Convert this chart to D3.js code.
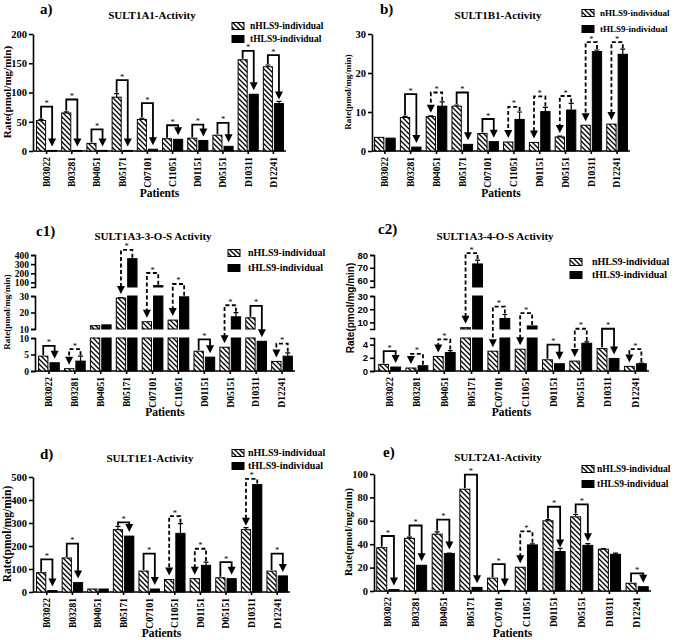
<!DOCTYPE html>
<html><head><meta charset="utf-8">
<script src="https://cdn.jsdelivr.net/npm/d3@7"></script>
<style>
body{margin:0;background:#fff}
text{font-family:"Liberation Serif","Times New Roman",serif;font-weight:bold;fill:#000}
</style></head>
<body><svg id="c" width="675" height="640"></svg>
<script>
const patients = ["B03022","B03281","B04051","B05171","C07101","C11051","D01151","D05151","D10311","D12241"];
const seriesNames = ["nHLS9-individual","tHLS9-individual"];

// a) SULT1A1
const a_n    = [52,65,13,92,54,21,22,27,156,144];
const a_t    = [1,1,1,1,3,20,18,8,97,81];
const a_nErr = [2,2,0,6,2,0,0,0,0,3];
const a_tErr = [0,0,0,0,0,0,0,0,0,4];
const a_br   = [76,88,37,121,82,44,45,48,171,164];
const a_ticks = [0,50,100,150,200];

// b) SULT1B1
const b_n    = [3.5,8.6,8.8,11.5,4.5,2.3,2.2,3.6,6.6,6.9];
const b_t    = [3.3,1.0,11.5,1.7,2.4,8.1,10.1,10.5,25.5,24.8];
const b_nErr = [0,0.3,0.2,0.3,0,0,0,0.2,0,0];
const b_tErr = [0,0,1.1,0,0,1.9,1.1,1.7,0.4,1.3];
const b_br   = [null,14.6,15,15,8.2,11.3,14,14.1,27.9,27.9];
const b_ticks = [0,10,20,30];

// c1) SULT1A3-3-O-S
const c1_n    = [4.5,0.7,12,28.8,14.4,15.4,6,7.2,16.8,2.9];
const c1_t    = [2.5,3.0,12.5,360,65,29.5,4.2,17.4,9,4.5];
const c1_nErr = [0,0,0,0.3,0,0,0,0,0,0];
const c1_tErr = [0,1.5,0,0,0,0,0,2.5,0,1];
const c1_br   = [7.6,6.6,null,455,203,83,9.6,24.4,24,8.3];
const c1_ticksLow = [0,5,10], c1_ticksMid = [10,20,30], c1_ticksTop = [100,200,300,400];

// c2) SULT1A3-4-O-S
const c2_n    = [1.0,0.45,2.2,6,3.0,3.3,1.7,1.5,3.4,0.7];
const c2_t    = [0.6,0.8,2.8,73,13,7.3,1.1,4.2,1.9,1.1];
const c2_nErr = [0,0,0,0,0,0,0,0,0,0];
const c2_tErr = [0,0,0.3,3,3,0,0,0.2,0,0.1];
const c2_br   = [3.0,2.6,4.8,81.5,21.9,17,4.0,5.2,5.2,3.3];
const c2_ticksLow = [0,2,4], c2_ticksMid = [10,20,30], c2_ticksTop = [60,70,80];

// d) SULT1E1
const d_n    = [84,148,13,271,91,54,58,62,271,91];
const d_t    = [6,41,13,243,13,255,116,58,467,70];
const d_nErr = [0,0,0,14,0,0,0,0,9,0];
const d_tErr = [0,0,0,0,0,42,14,0,0,0];
const d_br   = [142,210,null,303,167,330,188,130,492,167];
const d_ticks = [0,100,200,300,400,500];

// e) SULT2A1
const e_n    = [37,45,48.6,87,11,20.3,60,63.4,35.7,6.6];
const e_t    = [1.2,22,32,3.1,0.5,39.4,33.7,39,31.4,3.7];
const e_nErr = [0,1,2,0,0,0,1,2,0.5,0];
const e_tErr = [0,0,0.5,0,0,1,2.8,1.5,1,0];
const e_br   = [47,56,61,99.5,23,51,72,74,null,15];
const e_ticks = [0,20,40,60,80,100];

const svg = d3.select("#c");
const defs = svg.append("defs");
const pat = defs.append("pattern").attr("id","hatch").attr("width",5).attr("height",5)
  .attr("patternUnits","userSpaceOnUse");
pat.append("rect").attr("width",5).attr("height",5).attr("fill","#fff");
pat.append("path").attr("d","M0,0L5,5M-1,4L1,6M4,-1L6,1").attr("stroke","#000").attr("stroke-width",1.3);

function panel(cfg){
  const g = svg.append("g");
  const x = d3.scaleBand().domain(patients).range(cfg.xr);
  const step = x.bandwidth();
  const bw = step*0.36, gap = step*0.08;
  const segs = cfg.segs.map(s => ({sc: d3.scaleLinear().domain(s.d).range(s.r), ticks: s.ticks}));
  const Y = v => {
    for (let i=0;i<segs.length;i++){
      const s = segs[i].sc, [d0,d1] = s.domain();
      if (v <= d1 || i === segs.length-1) return v < d0 ? s.range()[0] : s(v);
    }
  };
  const axX = cfg.axX;
  // y axis segments
  segs.forEach(s => {
    const ax = d3.axisLeft(s.sc).tickValues(s.ticks).tickFormat(d3.format("d"))
      .tickSize(4).tickPadding(2).tickSizeOuter(segs.length>1?4:0);
    const ag = g.append("g").attr("transform",`translate(${axX},0)`).call(ax);
    ag.selectAll("path,line").attr("stroke","#000").attr("stroke-width",1.6);
    ag.selectAll("text").style("font-size",cfg.tickFont+"px")
      .style("font-family",cfg.sans?"'Liberation Sans',Arial,sans-serif":null);
  });
  // x axis
  const base = segs[0].sc.range()[0];
  const xa = d3.axisBottom(x).tickSize(3).tickSizeOuter(0);
  const xg = g.append("g").attr("transform",`translate(0,${base})`).call(xa);
  xg.select(".domain").attr("d",`M${axX},0H${cfg.xr[1]}`);
  xg.selectAll("path,line").attr("stroke","#000").attr("stroke-width",1.6);
  xg.selectAll("text").attr("transform","rotate(-90)").attr("x",-6).attr("y",0)
    .attr("dy","0.35em").attr("text-anchor","end").style("font-size","9.5px");

  const series = [
    {v: cfg.n, e: cfg.nErr, off: -gap/2-bw, fill:"url(#hatch)"},
    {v: cfg.t, e: cfg.tErr, off: gap/2, fill:"#000"}
  ];
  // bars
  series.forEach(s => {
    patients.forEach((p,i) => {
      const v = s.v[i];
      const cx = x(p)+step/2+s.off;
      segs.forEach(sg => {
        const [d0,d1] = sg.sc.domain();
        if (v > d0) {
          const top = sg.sc(Math.min(v,d1)), bot = sg.sc(d0);
          g.append("rect").attr("x",cx).attr("y",top).attr("width",bw).attr("height",Math.max(bot-top,0.8))
            .attr("fill",s.fill).attr("stroke","#000").attr("stroke-width",1);
        }
      });
      const e = s.e[i];
      if (e > 0) {
        const yt = Y(v+e), yb = Y(v), mx = cx+bw/2;
        g.append("path").attr("d",`M${mx},${yb}V${yt}M${mx-2.5},${yt}H${mx+2.5}`)
          .attr("stroke","#000").attr("stroke-width",1.2).attr("fill","none");
      }
    });
  });
  // brackets
  patients.forEach((p,i) => {
    const b = cfg.br[i];
    if (b == null) return;
    const c = x(p)+step/2;
    const xn = c - gap/2 - bw/2, xt = c + gap/2 + bw/2;
    const dec = cfg.n[i] > cfg.t[i];
    const hiX = dec ? xn : xt, loX = dec ? xt : xn;
    const hiTop = dec ? Y(cfg.n[i]+cfg.nErr[i]) : Y(cfg.t[i]+cfg.tErr[i]);
    const loTop = dec ? Y(cfg.t[i]) : Y(cfg.n[i]);
    const by = Y(b);
    const tip = loTop - 4, ah = 8, aw = 4;
    g.append("path").attr("d",`M${hiX},${hiTop-1}V${by}H${loX}V${tip-ah+1}`)
      .attr("fill","none").attr("stroke","#000").attr("stroke-width",1.8)
      .attr("stroke-dasharray", dec ? null : "4,2.5");
    g.append("path").attr("d",`M${loX-aw},${tip-ah}L${loX+aw},${tip-ah}L${loX},${tip}Z`).attr("fill","#000");
    g.append("text").attr("x",(xn+xt)/2).attr("y",by-0.5).attr("text-anchor","middle")
      .style("font-size","8.5px").style("font-weight","normal").text("*");
  });
  // title, label
  g.append("text").attr("x",cfg.title[1]).attr("y",cfg.title[2]).attr("text-anchor","middle")
    .style("font-size","11px").text(cfg.title[0]);
  g.append("text").attr("x",cfg.label[1]).attr("y",cfg.label[2]).style("font-size","15px").text(cfg.label[0]);
  // y title
  g.append("text").attr("transform",`translate(${cfg.ylab[0]},${cfg.ylab[1]}) rotate(-90)`)
    .attr("text-anchor","middle").style("font-size",cfg.ylab[2]+"px")
    .style("font-family",cfg.sans?"'Liberation Sans',Arial,sans-serif":null)
    .text("Rate(pmol/mg/min)");
  // x title
  g.append("text").attr("x",(axX+cfg.xr[1])/2).attr("y",cfg.patY).attr("text-anchor","middle")
    .style("font-size","11.5px").text("Patients");
  // legend
  const L = cfg.leg;
  seriesNames.forEach((nm,k) => {
    const cy = L.y[k];
    g.append("rect").attr("x",L.bx).attr("y",cy-3.5).attr("width",12).attr("height",7)
      .attr("fill",k===0?"url(#hatch)":"#000").attr("stroke","#000").attr("stroke-width",1);
    g.append("text").attr("x",L.tx).attr("y",cy+3.2).style("font-size",L.fs+"px").text(nm);
  });
}

panel({n:a_n,t:a_t,nErr:a_nErr,tErr:a_tErr,br:a_br,xr:[34,286],axX:33,tickFont:10.5,
  segs:[{d:[0,200],r:[151,34],ticks:a_ticks}],
  title:["SULT1A1-Activity",152,19],label:["a)",40,14],ylab:[11,92,11],patY:197,
  leg:{bx:232,tx:250,y:[26,39],fs:9.5}});
panel({n:b_n,t:b_t,nErr:b_nErr,tErr:b_tErr,br:b_br,xr:[372,630],axX:372,tickFont:10.5,
  segs:[{d:[0,30],r:[151,34],ticks:b_ticks}],
  title:["SULT1B1-Activity",498,19],label:["b)",380,14],ylab:[351,92,9],patY:197,
  leg:{bx:582,tx:600,y:[13,29],fs:9}});
panel({n:c1_n,t:c1_t,nErr:c1_nErr,tErr:c1_tErr,br:c1_br,xr:[36,295],axX:35,tickFont:9.5,
  segs:[{d:[0,10],r:[371,338],ticks:c1_ticksLow},{d:[10,30],r:[329,296],ticks:c1_ticksMid},
        {d:[50,400],r:[287,255],ticks:c1_ticksTop}],
  title:["SULT1A3-3-O-S Activity",153,240],label:["c1)",36,236],ylab:[10,312,9],patY:416,
  leg:{bx:228,tx:248,y:[253,268],fs:10}});
panel({n:c2_n,t:c2_t,nErr:c2_nErr,tErr:c2_tErr,br:c2_br,xr:[376,649],axX:374,tickFont:9.5,sans:true,
  segs:[{d:[0,5],r:[371,338],ticks:c2_ticksLow},{d:[5,30],r:[329,296],ticks:c2_ticksMid},
        {d:[55,80],r:[287,255],ticks:c2_ticksTop}],
  title:["SULT1A3-4-O-S Activity",495,240],label:["c2)",378,234],ylab:[354,308,10],patY:416,
  leg:{bx:570,tx:592,y:[262,275],fs:10}});
panel({n:d_n,t:d_t,nErr:d_nErr,tErr:d_tErr,br:d_br,xr:[34,290],axX:33,tickFont:10.5,
  segs:[{d:[0,500],r:[592,477],ticks:d_ticks}],
  title:["SULT1E1-Activity",150,462],label:["d)",40,459],ylab:[11,534,11.5],patY:637,
  leg:{bx:232,tx:248,y:[453,466],fs:10}});
panel({n:e_n,t:e_t,nErr:e_nErr,tErr:e_tErr,br:e_br,xr:[374,651],axX:374,tickFont:10.5,
  segs:[{d:[0,100],r:[591,474],ticks:e_ticks}],
  title:["SULT2A1-Activity",498,461],label:["e)",383,457],ylab:[352,532,10.5],patY:637,
  leg:{bx:582,tx:597,y:[469,484],fs:9.5}});
</script></body></html>
